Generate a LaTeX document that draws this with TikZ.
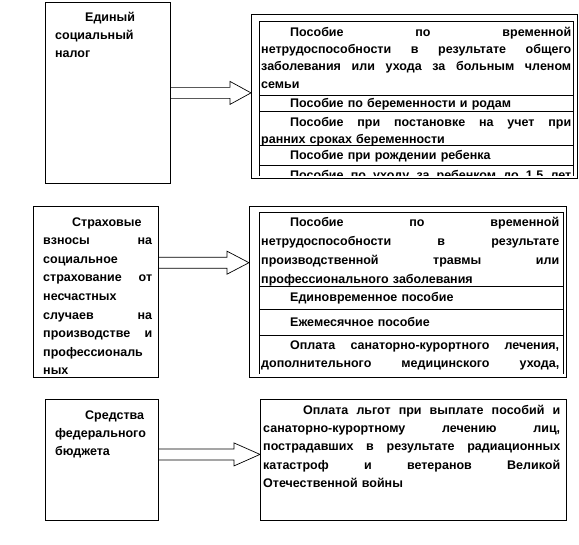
\documentclass[tikz,border=0pt]{standalone}
\usepackage{fontspec}
\setmainfont{Liberation Sans}
\usetikzlibrary{calc}
\setlength{\parindent}{0pt}
\newcommand{\jline}[1]{\makebox[\hsize][s]{\spaceskip=0pt\xspaceskip=0pt #1}}
\newcommand{\tstrut}{\rule{0pt}{12pt}}

\begin{document}
\begin{tikzpicture}[x=1pt,y=-1pt,
  box/.style={draw,line width=0.8pt,anchor=north west,inner sep=0pt},
  cell/.style={line width=0.8pt},
  txt/.style={anchor=north west,inner sep=0pt,align=left,font=\bfseries\fontsize{12.5}{#1}\selectfont},
  txt/.default=18,
  blockarrow/.style={draw,line width=0.7pt,line join=miter}]
\useasboundingbox (0,0) rectangle (579,545);
% ===================== TOP: единый социальный налог =====================
\node[box,minimum width=125,minimum height=181] (ens) at (45,2) {};
\node[txt,text width=85] (enst) at (55,9) {\tstrut\hspace*{30pt}Единый\\социальный\\налог};
\node[box,minimum width=326,minimum height=164] (ensben) at (251,14) {};
\begin{scope}
  \clip (ensben.north west) rectangle ($(ensben.south east)+(0,-3)$);
  \draw[cell] (259,21) rectangle (573,200);
  \foreach \y in {95,111,145,165} \draw[cell] (259,\y) -- (573,\y);
  \node[txt=17.3,text width=310] (ensb1) at (261,24) {\tstrut\jline{\hspace*{29pt}Пособие по временной}\\
    \jline{нетрудоспособности в результате общего}\\
    \jline{заболевания или ухода за больным членом}\\
    семьи};
  \node[txt=17.3,text width=310] (ensb2) at (261,95) {\tstrut\hspace*{29pt}Пособие по беременности и родам};
  \node[txt=17.3,text width=310] (ensb3) at (261,114) {\tstrut\jline{\hspace*{29pt}Пособие при постановке на учет при}\\
    ранних сроках беременности};
  \node[txt=17.3,text width=310] (ensb4) at (261,147) {\tstrut\hspace*{29pt}Пособие при рождении ребенка};
  \node[txt=17.3,text width=310] (ensb5) at (261,167) {\tstrut\jline{\hspace*{29pt}Пособие по уходу за ребенком до 1,5 лет}};
\end{scope}
% ===================== MIDDLE: страховые взносы =====================
\node[box,minimum width=125,minimum height=171] (fss) at (33,206) {};
\node[txt=18.6,text width=109] (fsst) at (43,214) {\tstrut\hspace*{29pt}Страховые\\
  \jline{взносы на}\\
  социальное\\
  \jline{страхование от}\\
  несчастных\\
  \jline{случаев на}\\
  \jline{производстве и}\\
  профессиональ\\
  ных};
\node[box,minimum width=317,minimum height=171] (fssben) at (249,206) {};
\begin{scope}
  \clip (fssben.north west) rectangle ($(fssben.south east)+(0,-4)$);
  \draw[cell] (259,212) rectangle (563,400);
  \foreach \y in {286,309,335} \draw[cell] (259,\y) -- (563,\y);
  \node[txt=19,text width=298] (fssb1) at (261,214) {\tstrut\jline{\hspace*{29pt}Пособие по временной}\\
    \jline{нетрудоспособности в результате}\\
    \jline{производственной травмы или}\\
    профессионального заболевания};
  \node[txt,text width=298] (fssb2) at (261,289.5) {\tstrut\hspace*{29pt}Единовременное пособие};
  \node[txt,text width=298] (fssb3) at (261,314) {\tstrut\hspace*{29pt}Ежемесячное пособие};
  \node[txt=18.6,text width=298] (fssb4) at (261,337) {\tstrut\jline{\hspace*{29pt}Оплата санаторно-курортного лечения,}\\
    \jline{дополнительного медицинского ухода,}};
\end{scope}
% ===================== BOTTOM: федеральный бюджет =====================
\node[box,minimum width=113,minimum height=121] (fb) at (45,399) {};
\node[txt,text width=95] (fbt) at (55,407) {\tstrut\hspace*{30pt}Средства\\федерального\\бюджета};
\node[box,minimum width=306,minimum height=121] (fbben) at (260,399) {};
\node[txt=18.3,text width=297] (fbbt) at (263,402) {\tstrut\jline{\hspace*{40pt}Оплата льгот при выплате пособий и}\\
  \jline{санаторно-курортному лечению лиц,}\\
  \jline{пострадавших в результате радиационных}\\
  \jline{катастроф и ветеранов Великой}\\
  Отечественной войны};
% ===================== block arrows =====================
\coordinate (a1) at (ens.east);
\coordinate (t1) at (a1 -| ensben.west);
\coordinate (a2) at ($(fss.north east)!0.33!(fss.south east)$);
\coordinate (t2) at (a2 -| fssben.west);
\coordinate (a3) at ($(fb.north east)!0.455!(fb.south east)$);
\coordinate (t3) at (a3 -| fbben.west);
\foreach \s/\t/\h in {a1/t1/21,a2/t2/22,a3/t3/26}
  \draw[blockarrow] ($(\s)+(0,-5.5)$) -- ($(\t)+(-\h,-5.5)$) -- ($(\t)+(-\h,-11.5)$) -- (\t)
    -- ($(\t)+(-\h,11.5)$) -- ($(\t)+(-\h,5.5)$) -- ($(\s)+(0,5.5)$);
\end{tikzpicture}
\end{document}
